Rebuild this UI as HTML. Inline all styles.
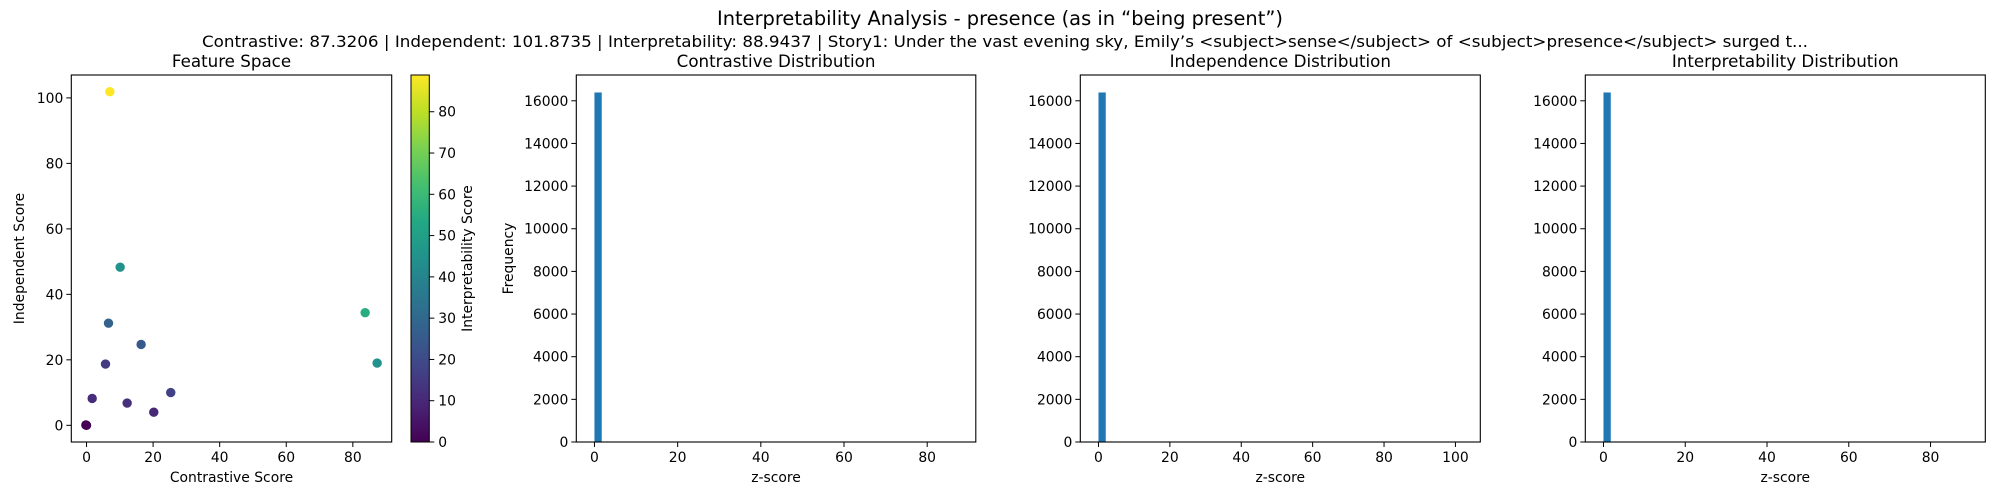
<!DOCTYPE html>
<html><head><meta charset="utf-8"><style>
html,body{margin:0;padding:0;background:#fff;}
svg{display:block;font-family:"DejaVu Sans","Liberation Sans",sans-serif;}
</style></head><body>
<svg id="fig" width="2000" height="500" viewBox="0 0 2000 500" xmlns="http://www.w3.org/2000/svg">
<rect width="2000" height="500" fill="#fff"/>
<text x="1000" y="25" text-anchor="middle" font-size="19.4" fill="#000">Interpretability Analysis - presence (as in “being present”)</text>
<text x="1005" y="47" text-anchor="middle" font-size="16.2" textLength="1606" lengthAdjust="spacingAndGlyphs" fill="#000">Contrastive: 87.3206 | Independent: 101.8735 | Interpretability: 88.9437 | Story1: Under the vast evening sky, Emily’s &lt;subject&gt;sense&lt;/subject&gt; of &lt;subject&gt;presence&lt;/subject&gt; surged t...</text>
<g id="plots"></g>
</svg>
<script>
// Scatter data
const scatterX = [7.0, 10.1, 6.6, 16.4, 5.7, 83.7, 87.3, 1.7, 12.2, 20.2, 25.3, 0.0, -0.2];
const scatterY = [101.9, 48.3, 31.2, 24.7, 18.7, 34.4, 19.0, 8.2, 6.8, 4.0, 10.0, 0.0, 0.1];
const scatterC = [88.9, 45, 28, 25, 15, 55, 45, 11, 12, 10, 17, 1, 0];
const scatterXTicks = [0, 20, 40, 60, 80];
const scatterYTicks = [0, 20, 40, 60, 80, 100];
const cbarTicks = [0, 10, 20, 30, 40, 50, 60, 70, 80];
// Histogram data (50 bins each)
const contrastiveCounts = [16390, 0,0,0,0,0,0,0,0,0,0,0,0,0,0,0,0,0,0,0,0,0,0,0,0,0,0,0,0,0,0,0,0,0,0,0,0,0,0,0,0,0,0,0,0,0,0,0,0,1];
const independenceCounts = [16390, 0,0,0,0,0,0,0,0,0,0,0,0,0,0,0,0,0,0,0,0,0,0,0,0,0,0,0,0,0,0,0,0,0,0,0,0,0,0,0,0,0,0,0,0,0,0,0,0,1];
const interpCounts = [16390, 0,0,0,0,0,0,0,0,0,0,0,0,0,0,0,0,0,0,0,0,0,0,0,0,0,0,0,0,0,0,0,0,0,0,0,0,0,0,0,0,0,0,0,0,0,0,0,0,1];
const contrastiveMax = 87.3206;
const independenceMax = 101.8735;
const interpMax = 88.9437;
const histYTicks = [0, 2000, 4000, 6000, 8000, 10000, 12000, 14000, 16000];
const histXTicks1 = [0, 20, 40, 60, 80];
const histXTicks2 = [0, 20, 40, 60, 80, 100];
const histXTicks3 = [0, 20, 40, 60, 80];

const NS = "http://www.w3.org/2000/svg";
const root = document.getElementById('plots');
function mk(tag, attrs, parent, txt) {
  const e = document.createElementNS(NS, tag);
  for (const k in attrs) e.setAttribute(k, attrs[k]);
  if (txt !== undefined) e.textContent = txt;
  (parent || root).appendChild(e);
  return e;
}
const vir = ["#440154","#482475","#414487","#355f8d","#2a788e","#21918c","#22a884","#44bf70","#7ad151","#bddf26","#fde725"];
function hex(h){return [1,3,5].map(i=>parseInt(h.substr(i,2),16));}
function viridis(t){
  t = Math.max(0, Math.min(1, t));
  const f = t*10, i = Math.min(9, Math.floor(f)), r = f - i;
  const a = hex(vir[i]), b = hex(vir[i+1]);
  return "rgb(" + a.map((v,k)=>Math.round(v+(b[k]-v)*r)).join(",") + ")";
}
function lin(d0,d1,r0,r1){return v => r0 + (v-d0)/(d1-d0)*(r1-r0);}

const TOP = 75, BOT = 442;
const FS = 13.9;

function axesFrame(L, R, name) {
  const f = mk('rect', {x:L, y:TOP, width:R-L, height:BOT-TOP, fill:'none', stroke:'#000', 'stroke-width':1.1});
  
  
}
function xTicks(ticks, sx, name) {
  ticks.forEach(t => {
    const x = sx(t);
    const l = mk('line', {x1:x, x2:x, y1:BOT, y2:BOT+5, stroke:'#000', 'stroke-width':1});
    
    
    const tx = mk('text', {x:x, y:BOT+20, 'text-anchor':'middle', 'font-size':FS}, null, String(t));
    
    
  });
}
function yTicks(ticks, sy, L, name) {
  ticks.forEach(t => {
    const y = sy(t);
    const l = mk('line', {x1:L-5, x2:L, y1:y, y2:y, stroke:'#000', 'stroke-width':1});
    
    
    const tx = mk('text', {x:L-8, y:y+5, 'text-anchor':'end', 'font-size':FS}, null, String(t));
    
    
  });
}
function title(x, s, name) {
  const t = mk('text', {x:x, y:67, 'text-anchor':'middle', 'font-size':16.7}, null, s);
  
  
}
function xlabel(x, s, name) {
  const t = mk('text', {x:x, y:482, 'text-anchor':'middle', 'font-size':FS}, null, s);
  
  
}
function ylabel(x, y, s, name) {
  const t = mk('text', {x:x, y:y, 'text-anchor':'middle', 'font-size':FS, transform:'rotate(-90 '+x+' '+y+')'}, null, s);
  
  
}

// ---- Scatter ----
(function(){
  const L = 71.3, R = 391.7;
  const xmin = Math.min(...scatterX), xmax = Math.max(...scatterX);
  const ymin = Math.min(...scatterY), ymax = Math.max(...scatterY);
  const mx = (xmax - xmin) * 0.05, my = (ymax - ymin) * 0.05;
  const sx = lin(xmin - mx, xmax + mx, L, R);
  const sy = lin(ymin - my, ymax + my, BOT, TOP);
  const cmax = Math.max(...scatterC), cmin = Math.min(...scatterC);
  scatterX.forEach((v, i) => {
    const c = mk('circle', {cx:sx(v), cy:sy(scatterY[i]), r:4.7, fill:viridis((scatterC[i]-cmin)/(cmax-cmin))});
    
    
  });
  axesFrame(L, R, 'scatter');
  xTicks(scatterXTicks, sx, 'scatter');
  yTicks(scatterYTicks, sy, L, 'scatter');
  title((L+R)/2, 'Feature Space', 'scatter-title');
  xlabel((L+R)/2, 'Contrastive Score', 'scatter-x-axis-title');
  ylabel(24, (TOP+BOT)/2, 'Independent Score', 'scatter-y-axis-title');

  // colorbar
  const CL = 411, CR = 429.3;
  const defs = mk('defs', {});
  const g = mk('linearGradient', {id:'vg', x1:0, y1:1, x2:0, y2:0}, defs);
  vir.forEach((c, i) => mk('stop', {offset:(i/10), 'stop-color':c}, g));
  const cb = mk('rect', {x:CL, y:TOP, width:CR-CL, height:BOT-TOP, fill:'url(#vg)', stroke:'#000', 'stroke-width':1});
  
  
  const sc = lin(cmin, cmax, BOT, TOP);
  cbarTicks.forEach(t => {
    const y = sc(t);
    const l = mk('line', {x1:CR, x2:CR+5, y1:y, y2:y, stroke:'#000', 'stroke-width':1});
    
    
    const tx = mk('text', {x:CR+9, y:y+5, 'font-size':FS}, null, String(t));
    
    
  });
  ylabel(472, (TOP+BOT)/2, 'Interpretability Score', 'colorbar-title');
})();

// ---- Histograms ----
function hist(L, R, counts, dmax, xt, ttl, name, ylab) {
  const m = dmax * 0.05;
  const sx = lin(-m, dmax + m, L, R);
  const ymaxc = Math.max(...counts) * 1.05;
  const sy = lin(0, ymaxc, BOT, TOP);
  const w = dmax / counts.length;
  counts.forEach((c, i) => {
    if (c <= 0) return;
    const x0 = sx(i*w), x1 = sx((i+1)*w);
    const b = mk('rect', {x:x0, y:sy(c), width:x1-x0, height:BOT-sy(c), fill:'#1f77b4'});
    
    
  });
  axesFrame(L, R, name);
  xTicks(xt, sx, name);
  yTicks(histYTicks, sy, L, name);
  title((L+R)/2, ttl, name + '-title');
  xlabel((L+R)/2, 'z-score', name + '-x-axis-title');
  if (ylab) ylabel(513, (TOP+BOT)/2, 'Frequency', name + '-y-axis-title');
}
hist(576.3, 975.8, contrastiveCounts, contrastiveMax, histXTicks1, 'Contrastive Distribution', 'contrastive-hist', true);
hist(1080.3, 1480.3, independenceCounts, independenceMax, histXTicks2, 'Independence Distribution', 'independence-hist', false);
hist(1585.3, 1985.3, interpCounts, interpMax, histXTicks3, 'Interpretability Distribution', 'interpretability-hist', false);
</script>
</body></html>
